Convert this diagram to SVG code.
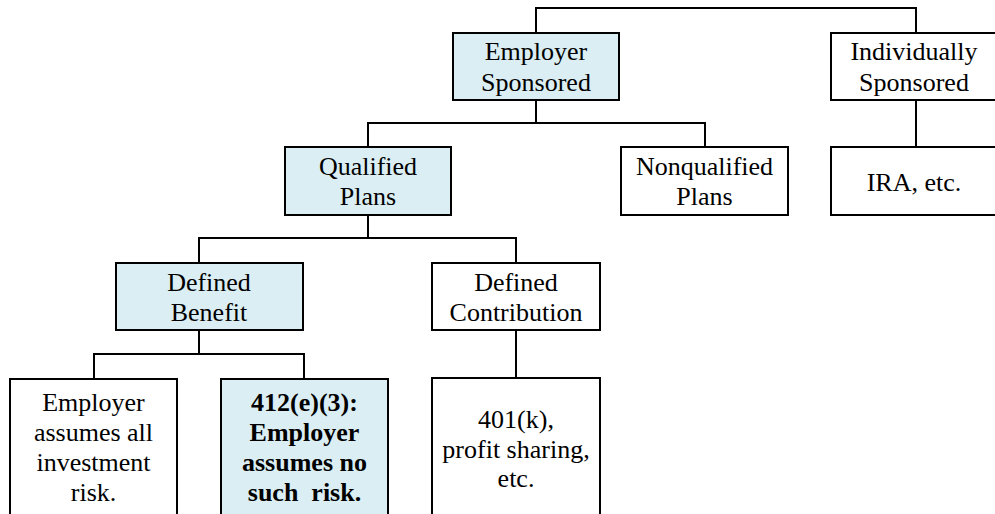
<svg xmlns="http://www.w3.org/2000/svg" width="995" height="514" viewBox="0 0 995 514">
<style>
  .box { stroke: #000; stroke-width: 2; fill: #fff; }
  .blue { fill: #DAEEF3; }
  .t { font-family: "Liberation Serif", "Times New Roman", serif; font-size: 26px; fill: #000; text-anchor: middle; }
  .b { font-weight: bold; }
  .conn { fill: none; stroke: #000; stroke-width: 2; }
</style>
<rect width="995" height="514" fill="#fff"/>
<g id="connectors" class="conn">
  <polyline points="536,33 536,8 916,8 916,33"/>
  <polyline points="536,100 536,123"/>
  <polyline points="368,147 368,123 705,123 705,147"/>
  <polyline points="916,100 916,147"/>
  <polyline points="368,215 368,238"/>
  <polyline points="199,263 199,238 516,238 516,263"/>
  <polyline points="199,330 199,354"/>
  <polyline points="94,379 94,354 304,354 304,379"/>
  <polyline points="516,330 516,378"/>
</g>
<g id="employer-sponsored">
  <rect class="box blue" x="453" y="33" width="166" height="67"/>
  <text class="t" x="536" y="60">Employer</text>
  <text class="t" x="536" y="91">Sponsored</text>
</g>
<g id="individually-sponsored">
  <rect class="box" x="831" y="33" width="168" height="67"/>
  <text class="t" x="914" y="60">Individually</text>
  <text class="t" x="914" y="91">Sponsored</text>
</g>
<g id="qualified-plans">
  <rect class="box blue" x="285" y="147" width="166" height="68"/>
  <text class="t" x="368" y="175">Qualified</text>
  <text class="t" x="368" y="205">Plans</text>
</g>
<g id="nonqualified-plans">
  <rect class="box" x="621" y="147" width="167" height="68"/>
  <text class="t" x="704.5" y="175">Nonqualified</text>
  <text class="t" x="704.5" y="205">Plans</text>
</g>
<g id="ira">
  <rect class="box" x="831" y="147" width="168" height="68"/>
  <text class="t" x="914" y="191">IRA, etc.</text>
</g>
<g id="defined-benefit">
  <rect class="box blue" x="116" y="263" width="187" height="67"/>
  <text class="t" x="209" y="291">Defined</text>
  <text class="t" x="209" y="321">Benefit</text>
</g>
<g id="defined-contribution">
  <rect class="box" x="432" y="263" width="168" height="67"/>
  <text class="t" x="516" y="291">Defined</text>
  <text class="t" x="516" y="321">Contribution</text>
</g>
<g id="employer-assumes-all">
  <rect class="box" x="10" y="379" width="167" height="160"/>
  <text class="t" x="93.5" y="411">Employer</text>
  <text class="t" x="93.5" y="441">assumes all</text>
  <text class="t" x="93.5" y="471">investment</text>
  <text class="t" x="93.5" y="501">risk.</text>
</g>
<g id="412e3">
  <rect class="box blue" x="221" y="379" width="167" height="160"/>
  <text class="t b" x="304.5" y="411">412(e)(3):</text>
  <text class="t b" x="304.5" y="441">Employer</text>
  <text class="t b" x="304.5" y="471">assumes no</text>
  <text class="t b" x="304.5" y="501" xml:space="preserve" style="white-space:pre">such  risk.</text>
</g>
<g id="401k">
  <rect class="box" x="432" y="378" width="168" height="160"/>
  <text class="t" x="516" y="428">401(k),</text>
  <text class="t" x="516" y="457.5">profit sharing,</text>
  <text class="t" x="516" y="487">etc.</text>
</g>
</svg>
